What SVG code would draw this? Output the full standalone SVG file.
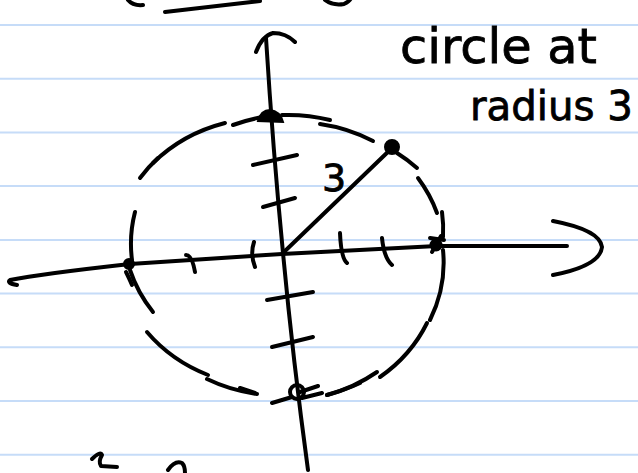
<svg xmlns="http://www.w3.org/2000/svg" width="638" height="473" viewBox="0 0 638 473">
<style>
.rule{stroke:#c6dcf8;stroke-width:2;fill:none}
.ink{stroke:#000;stroke-width:4;fill:none;stroke-linecap:round;stroke-linejoin:round}
.dot{fill:#000;stroke:#000;stroke-width:2}
.hand{font-family:"DejaVu Sans",sans-serif;fill:#000;stroke:#000;stroke-width:0.8}
</style>
<rect width="638" height="473" fill="#fff"/>
<g id="ruled-lines">
<line class="rule" x1="0" y1="25" x2="638" y2="25"/>
<line class="rule" x1="0" y1="78.7" x2="638" y2="78.7"/>
<line class="rule" x1="0" y1="132.4" x2="638" y2="132.4"/>
<line class="rule" x1="0" y1="186.1" x2="638" y2="186.1"/>
<line class="rule" x1="0" y1="239.9" x2="638" y2="239.9"/>
<line class="rule" x1="0" y1="293.6" x2="638" y2="293.6"/>
<line class="rule" x1="0" y1="347.3" x2="638" y2="347.3"/>
<line class="rule" x1="0" y1="401" x2="638" y2="401"/>
<line class="rule" x1="0" y1="454.7" x2="638" y2="454.7"/>
</g>
<g id="partial-strokes">
<path class="ink" d="M128 0 Q133 6 143 5"/>
<path class="ink" d="M165 12 L260 1"/>
<path class="ink" d="M325 0 Q333 6 344 4 Q350 1 351 -2"/>
<path class="ink" d="M92 459 Q100 451 102 455 Q98 462 101 466 L117 467"/>
<path class="ink" d="M168 470 Q175 460 182 463 Q185 466 185 473"/>
</g>
<g id="axes">
<path class="ink" d="M266 38 Q273 150 283 253 Q293 360 308 470"/>
<path class="ink" d="M256 52 Q262 36 273 33 Q286 33 295 42"/>
<path class="ink" d="M17 285 Q6 283 10 280 Q40 274 130 264 L282 254 L437 246 L567 246"/>
<path class="ink" d="M553 221 Q600 230 602 247 Q600 266 553 275"/>
</g>
<g id="ticks">
<path class="ink" d="M253 165 L297 155"/>
<path class="ink" d="M263 207 L295 198"/>
<path class="ink" d="M267 300 L313 292"/>
<path class="ink" d="M272 347 L313 337"/>
<path class="ink" d="M186 255 Q192 255 195 272"/>
<path class="ink" d="M254 242 Q250 254 255 267"/>
<path class="ink" d="M340 233 Q341 258 347 263"/>
<path class="ink" d="M382 238 Q384 258 392 265"/>
</g>
<g id="circle">
<path class="ink" d="M233 125 A155 140 0 0 1 263 117"/>
<path class="ink" d="M282 115 A155 140 0 0 1 330 120"/>
<path class="ink" d="M320 124 A155 140 0 0 1 373 141"/>
<path class="ink" d="M397 153 A155 140 0 0 1 417 168"/>
<path class="ink" d="M418 178 A155 140 0 0 1 437 213"/>
<path class="ink" d="M442 212 A155 140 0 0 1 443 237"/>
<path class="ink" d="M443 250 A155 140 0 0 1 430 320"/>
<path class="ink" d="M427 323 A155 140 0 0 1 380 377"/>
<path class="ink" d="M377 372 A155 140 0 0 1 327 395"/>
<path class="ink" d="M257 394 A155 140 0 0 1 207 379"/>
<path class="ink" d="M208 375 A155 140 0 0 1 147 332"/>
<path class="ink" d="M153 312 A155 140 0 0 1 130 270"/>
<path class="ink" d="M132 260 A155 140 0 0 1 135 212"/>
<path class="ink" d="M140 178 A155 140 0 0 1 158 158"/>
<path class="ink" d="M153 163 A155 140 0 0 1 225 123"/>
</g>
<g id="radius">
<path class="ink" d="M285 251 L392 148"/>
<text class="hand" x="334" y="191" font-size="38" text-anchor="middle">3</text>
</g>
<g id="points">
<path class="dot" d="M258 121 Q261 110 270 110 Q280 111 283 122 Z"/>
<circle class="dot" cx="392" cy="147" r="7"/>
<circle class="dot" cx="436" cy="245" r="5.5"/>
<path class="ink" d="M430 238 L444 240 M432 252 L441 236"/>
<circle class="dot" cx="129" cy="264" r="5"/>
<path class="ink" d="M126 272 Q130 280 132 285"/>
<circle class="ink" cx="297" cy="392" r="7"/>
<path class="ink" d="M272 403 L292 397 M302 398 L322 393 M300 392 L318 386 M240 388 L255 393 M327 395 Q345 390 360 383"/>
</g>
<g id="title">
<text class="hand" x="400" y="63" font-size="48" textLength="197" lengthAdjust="spacingAndGlyphs">circle at</text>
<text class="hand" x="470" y="120" font-size="40" textLength="163" lengthAdjust="spacingAndGlyphs">radius 3</text>
</g>
</svg>
